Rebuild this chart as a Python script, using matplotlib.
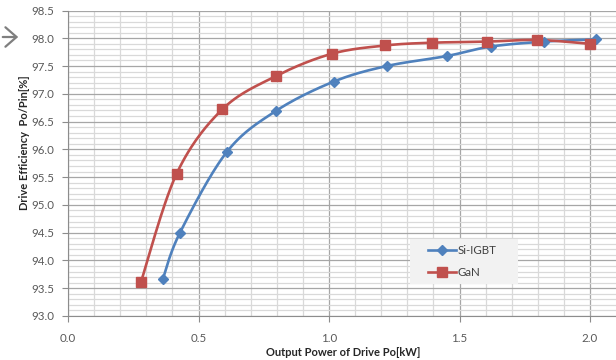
import numpy as np
import matplotlib
matplotlib.use("Agg")
import matplotlib.pyplot as plt
from matplotlib.patches import Rectangle, FancyArrowPatch
from matplotlib.ticker import MultipleLocator

# Output power [kW] and drive efficiency [%]
si_power = [0.363, 0.429, 0.608, 0.796, 1.018, 1.221, 1.451, 1.619, 1.823, 2.023]
si_eff = [93.66, 94.50, 95.95, 96.69, 97.22, 97.50, 97.68, 97.85, 97.94, 97.98]

gan_power = [0.280, 0.416, 0.591, 0.797, 1.010, 1.215, 1.393, 1.606, 1.798, 2.000]
gan_eff = [93.62, 95.56, 96.72, 97.32, 97.72, 97.87, 97.92, 97.94, 97.97, 97.90]

x_ticks = [0.0, 0.5, 1.0, 1.5, 2.0]
y_ticks = [93.0, 93.5, 94.0, 94.5, 95.0, 95.5, 96.0, 96.5, 97.0, 97.5, 98.0, 98.5]

BLUE = "#4F81BD"
RED = "#C0504D"
plt.rcParams["font.family"] = ["Lato", "DejaVu Sans"]

W, H = 616, 360


def smooth(xs, ys, n=30):
    """Smoothed line through the points (cubic Bezier, Catmull-Rom style)."""
    p = np.column_stack([xs, ys]).astype(float)
    ext = np.vstack([p[0], p, p[-1]])
    out = []
    for i in range(len(p) - 1):
        p0, p1, p2, p3 = ext[i], ext[i + 1], ext[i + 2], ext[i + 3]
        c1 = p1 + (p2 - p0) / 6.0
        c2 = p2 - (p3 - p1) / 6.0
        t = np.linspace(0, 1, n)[:, None]
        seg = ((1 - t) ** 3) * p1 + 3 * ((1 - t) ** 2) * t * c1 + 3 * (1 - t) * t ** 2 * c2 + t ** 3 * p2
        out.append(seg if i == 0 else seg[1:])
    s = np.vstack(out)
    return s[:, 0], s[:, 1]


fig = plt.figure(figsize=(W / 100, H / 100), dpi=100)
ax = fig.add_axes([68 / W, 1 - 316 / H, (W - 68) / W, (316 - 10.5) / H])
ax.set_xlim(0, (W - 68) / 261)
ax.set_ylim(93.0, 98.5)

ax.xaxis.set_minor_locator(MultipleLocator(0.1))
ax.yaxis.set_minor_locator(MultipleLocator(0.1))
ax.set_xticks(x_ticks)
ax.set_yticks(y_ticks)
ax.set_xticklabels([f"{v:.1f}" for v in x_ticks])
ax.set_yticklabels([f"{v:.1f}" for v in y_ticks])

ax.grid(which="minor", color="#D9D9D9", linewidth=0.9)
ax.grid(which="major", color="#A6A6A6", linewidth=0.9)
ax.set_axisbelow(True)

for side in ("top", "right"):
    ax.spines[side].set_visible(False)
ax.spines["left"].set_color("#8C8C8C")
ax.spines["bottom"].set_color("#8C8C8C")
ax.tick_params(which="major", length=4, color="#8C8C8C", labelsize=8.3, labelcolor="#595959", pad=6)
ax.tick_params(axis="x", pad=8)
ax.tick_params(which="minor", length=0)

handles = []
for xs, ys, col, mk, ms, lab in [
    (si_power, si_eff, BLUE, "D", 5.5, "Si-IGBT"),
    (gan_power, gan_eff, RED, "s", 7, "GaN"),
]:
    sx, sy = smooth(xs, ys)
    ax.plot(sx, sy, color=col, linewidth=1.9, solid_capstyle="round", zorder=3)
    ax.plot(xs, ys, linestyle="none", marker=mk, markersize=ms, color=col, zorder=4)
    h, = ax.plot([], [], color=col, linewidth=1.9, marker=mk, markersize=ms, label=lab)
    handles.append(h)

# legend box with a light grey fill
fig.add_artist(Rectangle((410 / W, 1 - 284 / H), 108 / W, 45 / H, transform=fig.transFigure,
                         facecolor="#F2F2F2", edgecolor="none", zorder=5))
leg = fig.legend(handles=handles, loc="center left", bbox_to_anchor=(428 / W, 1 - 261.5 / H),
                 frameon=False, fontsize=8.3, handlelength=2.4, labelspacing=0.95,
                 borderpad=0, handletextpad=0.2, borderaxespad=0)
leg.set_zorder(6)
for t in leg.get_texts():
    t.set_color("#404040")

fig.text(343 / W, 1 - 352 / H, "Output Power of Drive Po[kW]", ha="center", va="center",
         fontsize=8, fontweight="bold", color="#262626")
fig.text(25 / W, 1 - 143 / H, "Drive Efficiency  Po/Pin[%]", ha="center", va="center",
         rotation=90, fontsize=8, fontweight="bold", color="#262626")

fig.add_artist(FancyArrowPatch(
    (0 / W, 1 - 37 / H), (21 / W, 1 - 37 / H), transform=fig.transFigure,
    arrowstyle="->,head_length=8,head_width=7", color="#7F7F7F", linewidth=1.6,
    mutation_scale=1))

fig.savefig("out.png", dpi=100)
